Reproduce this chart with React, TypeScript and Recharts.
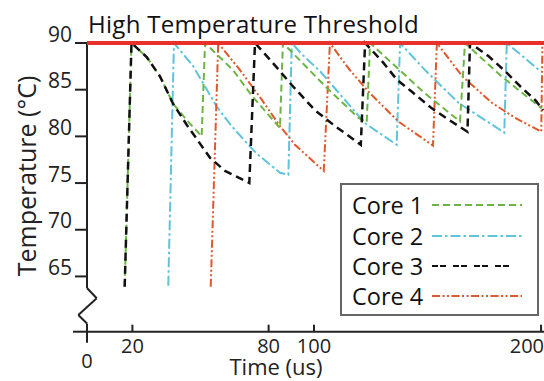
import React from 'react';
import { LineChart, Line, XAxis, YAxis, ReferenceLine, Legend } from 'recharts';

const FONT = '"Open Sans", "Noto Sans", "DejaVu Sans", sans-serif';

// ---------- data ----------
const coreNames = ['Core 1', 'Core 2', 'Core 3', 'Core 4'];
const xTicks = [0, 20, 80, 100, 200];
const yTicks = [65, 70, 75, 80, 85, 90];
const thresholdTemp = 90;
const thresholdLabel = 'High Temperature Threshold';
const xDomain = [0, 201.3];
const yDomain = [59.08, 90];

const core1Time = [16.6, 19.6, 26.3, 32.2, 37.9, 44.1, 50.5, 52.0, 64.3, 73.1, 85.0, 86.3, 105.6, 119.5, 123.2, 124.7, 148.9, 164.3, 166.5, 182.7, 200.3];
const core1Temp = [63.9, 90, 88.5, 86.4, 83.5, 81.7, 80.0, 90, 87.1, 84.2, 80.9, 90, 85.2, 82.0, 81.5, 90, 84.6, 81.6, 90, 86.4, 83.0];

const core2Time = [35.8, 38.3, 46.8, 57.1, 63.7, 71.8, 75.5, 85.0, 88.7, 90.2, 94.6, 102.6, 122.5, 136.4, 137.9, 148.9, 163.6, 183.8, 184.9, 199.6];
const core2Temp = [64.0, 90, 87.5, 83.2, 81.1, 78.9, 78.0, 76.1, 75.9, 90, 88.8, 87.0, 81.4, 79.1, 90, 87.1, 83.6, 80.4, 90, 87.0];

const core3Time = [16.6, 19.6, 26.3, 32.2, 37.9, 43.9, 54.2, 60.8, 71.5, 74.0, 81.4, 90.2, 100.4, 109.3, 120.6, 122.5, 130.5, 136.4, 143.0, 151.9, 159.2, 167.6, 168.7, 176.8, 184.1, 191.5, 197.4, 200.9];
const core3Temp = [63.9, 90, 88.5, 86.4, 83.5, 81.25, 77.7, 76.3, 75.0, 90, 88.0, 85.5, 82.8, 81.1, 79.1, 90, 87.9, 86.1, 84.8, 83.0, 81.8, 80.5, 90, 88.6, 87.0, 85.2, 83.9, 82.8];

const core4Time = [54.5, 57.8, 67.4, 76.2, 85.0, 91.6, 100.4, 104.3, 107.0, 115.1, 123.9, 137.1, 148.9, 152.4, 154.1, 165.4, 178.3, 183.4, 188.5, 200.1, 200.6];
const core4Temp = [63.9, 90, 87.1, 84.2, 81.1, 79.1, 77.15, 76.3, 90, 87.3, 84.8, 81.6, 79.6, 79.0, 90, 86.4, 83.6, 82.8, 82.0, 80.5, 90];

// y-axis break (zig-zag) and x-axis stub to the left of the origin, in axis units
const axisBreakTime = [0, 0, 4.27, -3.83, 0, 0];
const axisBreakTemp = [90, 63.76, 62.66, 60.87, 59.96, 59.08];
const xAxisStubTime = [-6.17, 0];

// ---------- styles ----------
const coreColors = ['#6cb544', '#5fc3da', '#111111', '#e0582c'];
const coreDash = ['7 4', '10 3 2.5 3', '8 5', '8 2.5 2 2.5 2 2.5'];
const coreWidths = [2, 2, 2.5, 2];
const legendDash = ['7 4', '10 3 2.5 3', '6 2 6 7', '8 2.5 2 2.5 2 2.5'];
const drawOrder = [1, 3, 0, 2];
const legendRowCenters = [20, 51, 81, 111];
const AXIS = '#222';

const zip = (ts: number[], vs: number[]) => ts.map((t, i) => ({ t, v: vs[i] }));
const coreSeries = [
  zip(core1Time, core1Temp),
  zip(core2Time, core2Temp),
  zip(core3Time, core3Temp),
  zip(core4Time, core4Temp),
];

const breakSegments = axisBreakTime.slice(1).map((t, i) => [
  { x: axisBreakTime[i], y: axisBreakTemp[i] },
  { x: t, y: axisBreakTemp[i + 1] },
]);

const XTick = (props: any) => {
  const { x, y, payload } = props;
  const v = payload.value;
  const isZero = v === xTicks[0];
  const isLast = v === xTicks[xTicks.length - 1];
  return (
    <g>
      <line x1={x} x2={x} y1={y} y2={isZero ? y + 11 : y - 7} stroke={AXIS} strokeWidth={2} />
      <text
        x={isLast ? x + 3 : x}
        y={isZero ? y + 29 : y + 13.5}
        textAnchor={isLast ? 'end' : 'middle'}
        dominantBaseline="central"
        fontSize={20}
        fontFamily={FONT}
        fill={AXIS}
      >
        {v}
      </text>
    </g>
  );
};

const YTick = (props: any) => {
  const { x, y, payload } = props;
  return (
    <text x={x} y={y - 9.5} textAnchor="end" dominantBaseline="central" fontSize={21} fontFamily={FONT} fill={AXIS}>
      {payload.value}
    </text>
  );
};

const LegendBox = () => (
  <div
    style={{
      position: 'relative',
      width: 199,
      height: 133,
      boxSizing: 'border-box',
      border: '2px solid #666',
      background: '#fff',
      fontFamily: FONT,
    }}
  >
    {coreNames.map((name, i) => (
      <div
        key={name}
        style={{
          position: 'absolute',
          left: 10,
          top: legendRowCenters[i] - 14,
          height: 28,
          display: 'flex',
          alignItems: 'center',
          whiteSpace: 'nowrap',
        }}
      >
        <span style={{ fontSize: 23.5, lineHeight: '28px', color: '#111' }}>{name}</span>
        <svg width={92} height={6} style={{ marginLeft: 9 }}>
          <line
            x1={0}
            x2={i === 2 ? 82 : 90}
            y1={3}
            y2={3}
            stroke={coreColors[i]}
            strokeWidth={2}
            strokeDasharray={legendDash[i]}
          />
        </svg>
      </div>
    ))}
  </div>
);

export default function App() {
  return (
    <div style={{ position: 'absolute', left: 0, top: 0, width: 544, height: 381, background: '#fff' }}>
      <LineChart width={544} height={381} margin={{ top: 43, right: 0, bottom: 0, left: 0 }}>
        <XAxis
          type="number"
          dataKey="t"
          domain={xDomain}
          ticks={xTicks}
          interval={0}
          height={49.3}
          axisLine={{ stroke: AXIS, strokeWidth: 2 }}
          tickLine={false}
          tickSize={0}
          tickMargin={0}
          tick={<XTick />}
          label={(p: any) => {
            const vb = p.viewBox || { x: 87, y: 331.7 };
            return (
              <text x={vb.x + 189} y={vb.y + 43} textAnchor="middle" fontSize={22} fontFamily={FONT} fill={AXIS}>
                Time (us)
              </text>
            );
          }}
        />
        <YAxis
          type="number"
          domain={yDomain}
          ticks={yTicks}
          interval={0}
          width={87}
          axisLine={false}
          tickLine={{ stroke: AXIS, strokeWidth: 2 }}
          tickSize={12}
          tickMargin={3}
          tick={<YTick />}
          label={(p: any) => {
            const vb = p.viewBox || { x: 0, y: 43 };
            const cx = vb.x + 26;
            const cy = vb.y + 133;
            return (
              <text
                x={cx}
                y={cy}
                transform={`rotate(-90 ${cx} ${cy})`}
                textAnchor="middle"
                dominantBaseline="central"
                fontSize={25}
                fontFamily={FONT}
                fill={AXIS}
              >
                Temperature (°C)
              </text>
            );
          }}
        />
        {breakSegments.map((seg, i) => (
          <ReferenceLine key={`b${i}`} segment={seg} ifOverflow="visible" stroke={AXIS} strokeWidth={2} />
        ))}
        <ReferenceLine
          segment={[
            { x: xAxisStubTime[0], y: yDomain[0] },
            { x: xAxisStubTime[1], y: yDomain[0] },
          ]}
          ifOverflow="visible"
          stroke={AXIS}
          strokeWidth={2}
        />
        {drawOrder.map((i) => (
          <Line
            key={coreNames[i]}
            name={coreNames[i]}
            data={coreSeries[i]}
            dataKey="v"
            type="linear"
            stroke={coreColors[i]}
            strokeWidth={coreWidths[i]}
            strokeDasharray={coreDash[i]}
            dot={false}
            activeDot={false}
            isAnimationActive={false}
          />
        ))}
        <ReferenceLine
          y={thresholdTemp}
          stroke="#e8312b"
          strokeWidth={4}
          ifOverflow="visible"
          label={(p: any) => {
            const vb = p.viewBox || { x: 87, y: 43 };
            return (
              <text x={vb.x + 1} y={vb.y - 10} fontSize={24} letterSpacing={0.3} fontFamily={FONT} fill="#111">
                {thresholdLabel}
              </text>
            );
          }}
        />
        <Legend
          verticalAlign="middle"
          align="center"
          layout="horizontal"
          content={() => <LegendBox />}
          wrapperStyle={{ left: 340, top: 183, width: 199, height: 133 }}
        />
      </LineChart>
    </div>
  );
}
